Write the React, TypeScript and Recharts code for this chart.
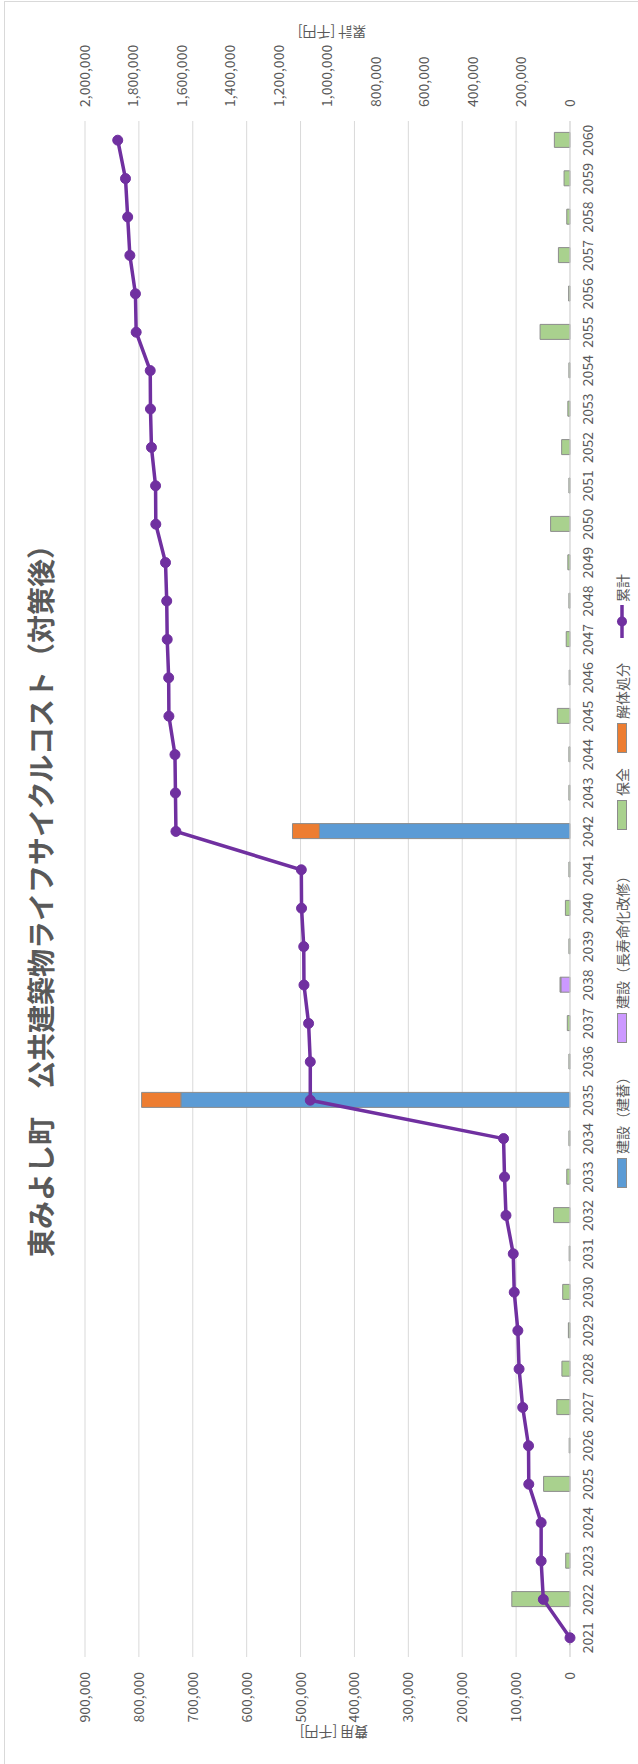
import { ComposedChart, Bar, Line, XAxis, YAxis, CartesianGrid } from "recharts";

const years = [
  "2021", "2022", "2023", "2024", "2025", "2026", "2027", "2028", "2029", "2030",
  "2031", "2032", "2033", "2034", "2035", "2036", "2037", "2038", "2039", "2040",
  "2041", "2042", "2043", "2044", "2045", "2046", "2047", "2048", "2049", "2050",
  "2051", "2052", "2053", "2054", "2055", "2056", "2057", "2058", "2059", "2060",
];

// 建設（建替）
const rebuild = [
  0, 0, 0, 0, 0, 0, 0, 0, 0, 0,
  0, 0, 0, 0, 722000, 0, 0, 0, 0, 0,
  0, 465000, 0, 0, 0, 0, 0, 0, 0, 0,
  0, 0, 0, 0, 0, 0, 0, 0, 0, 0,
];

// 建設（長寿命化改修）
const extend = [
  0, 0, 0, 0, 0, 0, 0, 0, 0, 0,
  0, 0, 0, 0, 0, 0, 0, 17000, 0, 0,
  0, 0, 0, 0, 0, 0, 0, 0, 0, 0,
  0, 0, 0, 0, 0, 0, 0, 0, 0, 0,
];

// 保全
const upkeep = [
  1000, 108000, 8000, 0, 49000, 1500, 24500, 15000, 3000, 13500,
  1500, 30500, 6000, 2000, 0, 2000, 5000, 1500, 2000, 8500,
  2000, 0, 2000, 2000, 23500, 1500, 7000, 2000, 4000, 36000,
  2000, 15500, 4000, 2000, 55500, 2500, 21500, 6000, 11000, 29000,
];

// 解体処分
const demolish = [
  0, 0, 0, 0, 0, 0, 0, 0, 0, 0,
  0, 0, 0, 0, 73000, 0, 0, 0, 0, 0,
  0, 50000, 0, 0, 0, 0, 0, 0, 0, 0,
  0, 0, 0, 0, 0, 0, 0, 0, 0, 0,
];

// 累計
const cumulative = [
  0, 110000, 119000, 119000, 170000, 171000, 195000, 210000, 215000, 230000,
  234000, 264000, 270000, 274000, 1071000, 1071000, 1078000, 1097000, 1098000, 1107000,
  1108000, 1625000, 1627000, 1629000, 1654000, 1655000, 1661000, 1663000, 1668000, 1708000,
  1709000, 1726000, 1730000, 1731000, 1789000, 1792000, 1815000, 1824000, 1833000, 1865000,
];

const costTicks = [0, 100000, 200000, 300000, 400000, 500000, 600000, 700000, 800000, 900000];
const cumTicks = [0, 200000, 400000, 600000, 800000, 1000000, 1200000, 1400000, 1600000, 1800000, 2000000];

const FONT = "'Noto Sans CJK JP', 'Noto Sans', sans-serif";
const TEXT = "#595959";
const EDGE = "#8C8C8C";

const chartData = years.map((y, i) => ({
  year: y,
  rebuild: rebuild[i],
  extend: extend[i],
  upkeep: upkeep[i],
  demolish: demolish[i],
  cum: cumulative[i],
}));

const fmt = (v: number) => v.toLocaleString("en-US");

function LegendBox({ x, color, label }: { x: number; color: string; label: string }) {
  return (
    <div style={{ position: "absolute", left: x, top: 612, display: "flex", alignItems: "center", whiteSpace: "nowrap" }}>
      <div style={{ width: 30, height: 10, background: color, border: `1px solid ${EDGE}`, boxSizing: "border-box", marginRight: 4 }} />
      <span style={{ fontSize: 14, color: TEXT, lineHeight: "20px" }}>{label}</span>
    </div>
  );
}

export default function App() {
  return (
    <div style={{ position: "absolute", left: 0, top: 0, width: 638, height: 1764, overflow: "hidden", background: "#fff", fontFamily: FONT }}>
      {/* landscape chart, turned a quarter to the left */}
      <div
        style={{
          position: "absolute",
          left: 0,
          top: 0,
          width: 1764,
          height: 638,
          transformOrigin: "0 0",
          transform: "translateY(1764px) rotate(-90deg)",
          background: "#fff",
        }}
      >
        <div style={{ position: "absolute", left: -2, top: 4, width: 1765, height: 640, border: "1px solid #D9D9D9", boxSizing: "border-box" }} />
        <div style={{ position: "absolute", left: 0, top: 21, width: 1740, textAlign: "center", fontSize: 28, fontWeight: 700, color: TEXT, lineHeight: "38px" }}>
          東みよし町　公共建築物ライフサイクルコスト（対策後）
        </div>
        <div style={{ position: "absolute", left: 0, top: 0 }}>
          <ComposedChart width={1764} height={638} data={chartData} margin={{ top: 85, right: 40, bottom: 40, left: 40 }}>
            <CartesianGrid yAxisId="left" vertical={false} stroke="#D9D9D9" />
            <XAxis
              dataKey="year"
              interval={0}
              tickLine={false}
              tickSize={6}
              tickMargin={7}
              height={28}
              axisLine={{ stroke: "#D9D9D9" }}
              tick={{ fill: TEXT, fontSize: 14, fontFamily: FONT }}
            />
            <YAxis
              yAxisId="left"
              domain={[0, 900000]}
              ticks={costTicks}
              width={67}
              axisLine={false}
              tickLine={false}
              tickMargin={9}
              tickFormatter={fmt}
              tick={{ fill: TEXT, fontSize: 14, fontFamily: FONT }}
            />
            <YAxis
              yAxisId="right"
              orientation="right"
              domain={[0, 2000000]}
              ticks={cumTicks}
              width={81}
              axisLine={false}
              tickLine={false}
              tickMargin={8}
              tickFormatter={fmt}
              tick={{ fill: TEXT, fontSize: 14, fontFamily: FONT }}
            />
            <Bar yAxisId="left" dataKey="rebuild" name="建設（建替）" stackId="a" fill="#5B9BD5" stroke={EDGE} strokeWidth={1} barSize={15} isAnimationActive={false} />
            <Bar yAxisId="left" dataKey="extend" name="建設（長寿命化改修）" stackId="a" fill="#CC99FF" stroke={EDGE} strokeWidth={1} barSize={15} isAnimationActive={false} />
            <Bar yAxisId="left" dataKey="upkeep" name="保全" stackId="a" fill="#A9D18E" stroke={EDGE} strokeWidth={1} barSize={15} isAnimationActive={false} />
            <Bar yAxisId="left" dataKey="demolish" name="解体処分" stackId="a" fill="#ED7D31" stroke={EDGE} strokeWidth={1} barSize={15} isAnimationActive={false} />
            <Line
              yAxisId="right"
              type="linear"
              dataKey="cum"
              name="累計"
              stroke="#7030A0"
              strokeWidth={3.5}
              dot={{ r: 5, fill: "#7030A0", stroke: "#7030A0", strokeWidth: 1 }}
              activeDot={false}
              isAnimationActive={false}
            />
          </ComposedChart>
        </div>
        <svg width={1764} height={638} style={{ position: "absolute", left: 0, top: 0, pointerEvents: "none" }}>
          <text transform="translate(31,334) rotate(-90)" textAnchor="middle" dominantBaseline="central" fontSize={14} fill={TEXT} fontFamily={FONT}>
            費用 [千円]
          </text>
          <text transform="translate(1731,332) rotate(-90)" textAnchor="middle" dominantBaseline="central" fontSize={14} fill={TEXT} fontFamily={FONT}>
            累計 [千円]
          </text>
        </svg>
        <LegendBox x={576} color="#5B9BD5" label="建設（建替）" />
        <LegendBox x={721} color="#CC99FF" label="建設（長寿命化改修）" />
        <LegendBox x={934} color="#A9D18E" label="保全" />
        <LegendBox x={1011} color="#ED7D31" label="解体処分" />
        <div style={{ position: "absolute", left: 1126, top: 612, display: "flex", alignItems: "center", whiteSpace: "nowrap" }}>
          <svg width={33} height={12} style={{ marginRight: 3 }}>
            <line x1={0} y1={6} x2={33} y2={6} stroke="#7030A0" strokeWidth={3.5} />
            <circle cx={16.5} cy={6} r={5} fill="#7030A0" />
          </svg>
          <span style={{ fontSize: 14, color: TEXT, lineHeight: "20px" }}>累計</span>
        </div>
      </div>
    </div>
  );
}
